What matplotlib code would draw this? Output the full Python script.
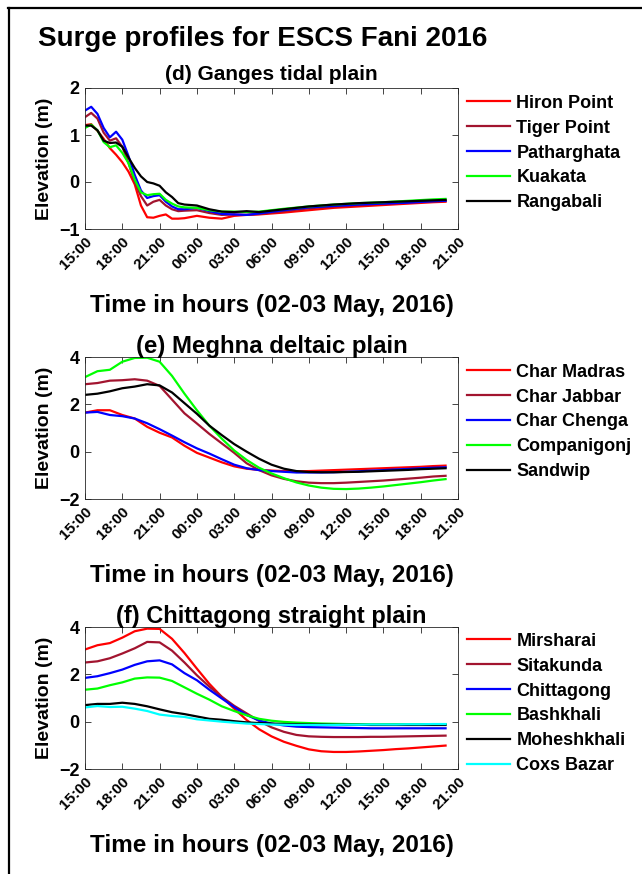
import numpy as np
import matplotlib.pyplot as plt
from matplotlib.lines import Line2D

plt.rcParams['font.family'] = ['Liberation Sans', 'DejaVu Sans']
plt.rcParams['font.weight'] = 'bold'

tick_hours = [0, 3, 6, 9, 12, 15, 18, 21, 24, 27, 30]
tick_labels = ["15:00", "18:00", "21:00", "00:00", "03:00", "06:00",
               "09:00", "12:00", "15:00", "18:00", "21:00"]

# (d) Ganges tidal plain  -- hours after 15:00, 02 May
hours_d = [0, 0.5, 1, 1.5, 2, 2.5, 3, 3.5, 4, 4.5, 5, 5.5, 6, 6.5, 7, 7.5, 8,
           9, 10, 11, 12, 13, 14, 16, 18, 20, 22, 24, 26, 28, 29]
names_d = ["Hiron Point", "Tiger Point", "Patharghata", "Kuakata", "Rangabali"]
hiron = [1.21, 1.23, 1.09, 0.92, 0.72, 0.58, 0.42, 0.22, -0.05, -0.5, -0.75,
         -0.76, -0.72, -0.69, -0.78, -0.78, -0.77, -0.72, -0.76, -0.78, -0.72,
         -0.70, -0.69, -0.65, -0.60, -0.55, -0.52, -0.49, -0.46, -0.43, -0.42]
tiger = [1.38, 1.47, 1.35, 1.05, 0.88, 0.93, 0.75, 0.40, 0.0, -0.30, -0.50,
         -0.42, -0.38, -0.50, -0.58, -0.62, -0.61, -0.60, -0.66, -0.70, -0.69,
         -0.70, -0.68, -0.62, -0.56, -0.52, -0.49, -0.46, -0.43, -0.41, -0.40]
patharghata = [1.52, 1.60, 1.45, 1.15, 0.95, 1.07, 0.90, 0.55, 0.15, -0.18,
               -0.34, -0.30, -0.28, -0.42, -0.52, -0.58, -0.58, -0.55, -0.62,
               -0.68, -0.69, -0.70, -0.67, -0.60, -0.54, -0.51, -0.48, -0.46,
               -0.44, -0.41, -0.40]
kuakata = [1.15, 1.22, 1.10, 0.85, 0.74, 0.78, 0.62, 0.40, 0.05, -0.22, -0.28,
           -0.26, -0.25, -0.38, -0.46, -0.52, -0.54, -0.55, -0.60, -0.63, -0.63,
           -0.64, -0.63, -0.57, -0.52, -0.48, -0.45, -0.43, -0.40, -0.37, -0.36]
rangabali = [1.20, 1.20, 1.10, 0.88, 0.83, 0.84, 0.75, 0.52, 0.30, 0.12, 0.0,
             -0.03, -0.08, -0.22, -0.32, -0.45, -0.48, -0.50, -0.58, -0.63,
             -0.64, -0.62, -0.64, -0.58, -0.52, -0.48, -0.45, -0.43, -0.41,
             -0.39, -0.38]

# (e) Meghna deltaic plain
hours_e = list(range(30))
names_e = ["Char Madras", "Char Jabbar", "Char Chenga", "Companigonj", "Sandwip"]
char_madras = [1.65, 1.75, 1.75, 1.55, 1.40, 1.05, 0.80, 0.60, 0.25, -0.05,
               -0.25, -0.45, -0.62, -0.72, -0.77, -0.80, -0.82, -0.83, -0.82,
               -0.80, -0.78, -0.76, -0.74, -0.72, -0.70, -0.68, -0.66, -0.64,
               -0.61, -0.59]
char_jabbar = [2.85, 2.90, 3.00, 3.02, 3.06, 3.00, 2.78, 2.20, 1.62, 1.19, 0.75,
               0.35, -0.05, -0.49, -0.78, -1.00, -1.15, -1.25, -1.31, -1.33,
               -1.33, -1.31, -1.28, -1.25, -1.22, -1.18, -1.14, -1.10, -1.05,
               -1.02]
char_chenga = [1.65, 1.68, 1.55, 1.50, 1.40, 1.20, 0.95, 0.68, 0.40, 0.14,
               -0.08, -0.32, -0.55, -0.70, -0.78, -0.82, -0.85, -0.88, -0.88,
               -0.88, -0.87, -0.85, -0.83, -0.80, -0.78, -0.75, -0.73, -0.70,
               -0.68, -0.66]
companigonj = [3.15, 3.40, 3.46, 3.80, 3.96, 3.97, 3.80, 3.20, 2.45, 1.75, 1.10,
               0.55, 0.05, -0.35, -0.68, -0.92, -1.12, -1.30, -1.43, -1.52,
               -1.57, -1.58, -1.56, -1.52, -1.47, -1.41, -1.35, -1.29, -1.22,
               -1.16]
sandwip = [2.40, 2.45, 2.55, 2.68, 2.75, 2.85, 2.80, 2.50, 2.05, 1.60, 1.10,
           0.70, 0.32, 0.0, -0.30, -0.55, -0.72, -0.82, -0.86, -0.87, -0.87,
           -0.86, -0.85, -0.83, -0.81, -0.79, -0.77, -0.74, -0.72, -0.70]

# (f) Chittagong straight plain
hours_f = list(range(30))
names_f = ["Mirsharai", "Sitakunda", "Chittagong", "Bashkhali", "Moheshkhali",
           "Coxs Bazar"]
mirsharai = [3.05, 3.23, 3.32, 3.55, 3.82, 3.93, 3.92, 3.50, 2.90, 2.24, 1.60,
             1.05, 0.55, 0.07, -0.32, -0.62, -0.85, -1.02, -1.17, -1.25, -1.28,
             -1.28, -1.26, -1.23, -1.20, -1.16, -1.13, -1.09, -1.05, -1.01]
sitakunda = [2.50, 2.55, 2.68, 2.88, 3.10, 3.37, 3.35, 3.00, 2.50, 1.96, 1.48,
             1.05, 0.67, 0.35, 0.03, -0.24, -0.43, -0.56, -0.62, -0.64, -0.65,
             -0.65, -0.65, -0.64, -0.64, -0.63, -0.62, -0.61, -0.60, -0.59]
chittagong = [1.85, 1.92, 2.05, 2.20, 2.40, 2.55, 2.59, 2.42, 2.05, 1.75, 1.35,
              0.98, 0.62, 0.28, 0.05, -0.08, -0.16, -0.21, -0.23, -0.24, -0.25,
              -0.26, -0.27, -0.28, -0.28, -0.28, -0.28, -0.28, -0.28, -0.28]
bashkhali = [1.35, 1.40, 1.54, 1.66, 1.82, 1.87, 1.86, 1.72, 1.45, 1.18, 0.93,
             0.65, 0.45, 0.27, 0.12, 0.04, -0.01, -0.04, -0.06, -0.08, -0.09,
             -0.10, -0.11, -0.11, -0.11, -0.11, -0.11, -0.11, -0.11, -0.11]
moheshkhali = [0.70, 0.75, 0.75, 0.80, 0.75, 0.65, 0.52, 0.40, 0.32, 0.22,
               0.12, 0.08, 0.02, -0.03, -0.06, -0.08, -0.10, -0.11, -0.12,
               -0.12, -0.13, -0.13, -0.13, -0.14, -0.14, -0.14, -0.14, -0.14,
               -0.14, -0.14]
coxs_bazar = [0.60, 0.66, 0.62, 0.63, 0.55, 0.45, 0.30, 0.24, 0.20, 0.10, 0.05,
              0.0, -0.04, -0.08, -0.10, -0.12, -0.13, -0.14, -0.14, -0.14,
              -0.14, -0.13, -0.13, -0.12, -0.12, -0.12, -0.11, -0.11, -0.10,
              -0.10]

colors = ['#FF0000', '#A2142F', '#0000FF', '#00FF00', '#000000', '#00FFFF']

W, H = 642, 874
fig = plt.figure(figsize=(W / 100, H / 100), dpi=100)

# frame lines along top and left of the image
fig.add_artist(Line2D([8 / W, 1], [1 - 8 / H, 1 - 8 / H], color='k',
                      lw=1.6, transform=fig.transFigure))
fig.add_artist(Line2D([9 / W, 9 / W], [0, 1 - 8 / H], color='k',
                      lw=1.6, transform=fig.transFigure))

fig.text(38 / W, 1 - 39 / H, "Surge profiles for ESCS Fani 2016",
         fontsize=20, fontweight='bold', va='center', ha='left')

# title, title size, title pad, hours, names, series, ylim, yticks,
# axes box (px), legend top (px)
panels = [
    ("(d) Ganges tidal plain", 15, 6, hours_d, names_d,
     [hiron, tiger, patharghata, kuakata, rangabali], (-1, 2), [-1, 0, 1, 2],
     [85, 88, 458, 229], 91),
    ("(e) Meghna deltaic plain", 17.3, 3, hours_e, names_e,
     [char_madras, char_jabbar, char_chenga, companigonj, sandwip], (-2, 4),
     [-2, 0, 2, 4], [85, 357, 458, 499], 360),
    ("(f) Chittagong straight plain", 17, 3, hours_f, names_f,
     [mirsharai, sitakunda, chittagong, bashkhali, moheshkhali, coxs_bazar],
     (-2, 4), [-2, 0, 2, 4], [85, 627, 458, 769], 629),
]

for title, tsize, tpad, hrs, names, series, ylim, yticks, box, legtop in panels:
    x0, y0, x1, y1 = box
    ax = fig.add_axes([x0 / W, 1 - y1 / H, (x1 - x0) / W, (y1 - y0) / H])
    for name, vals, c in zip(names, series, colors):
        ax.plot(hrs, vals, color=c, lw=1.6, label=name)
    ax.set_xlim(0, 30)
    ax.set_ylim(*ylim)
    ax.set_yticks(yticks)
    ax.set_xticks(tick_hours)
    ax.set_xticklabels(tick_labels, rotation=45, ha='right',
                       rotation_mode='anchor', fontsize=11, fontweight='bold')
    for lab in ax.get_yticklabels():
        lab.set_fontsize(13)
        lab.set_fontweight('bold')
    ax.tick_params(direction='in', top=True, right=True, length=4,
                   width=0.6, color='#262626', pad=4)
    for sp in ax.spines.values():
        sp.set_color('#262626')
        sp.set_linewidth(0.6)
    ax.set_title(title, fontsize=tsize, fontweight='bold', pad=tpad)
    ax.set_ylabel("Elevation (m)", fontsize=14, fontweight='bold', labelpad=4)
    ax.set_xlabel("Time in hours (02-03 May, 2016)", fontsize=17.5,
                  fontweight='bold', labelpad=16)
    ax.legend(loc='upper left', bbox_to_anchor=(463 / W, 1 - legtop / H),
              bbox_transform=fig.transFigure, frameon=False,
              fontsize=13, handlelength=2.4, handletextpad=0.35,
              labelspacing=0.44, borderaxespad=0.0, borderpad=0.2)

fig.savefig('out.png', dpi=100)
